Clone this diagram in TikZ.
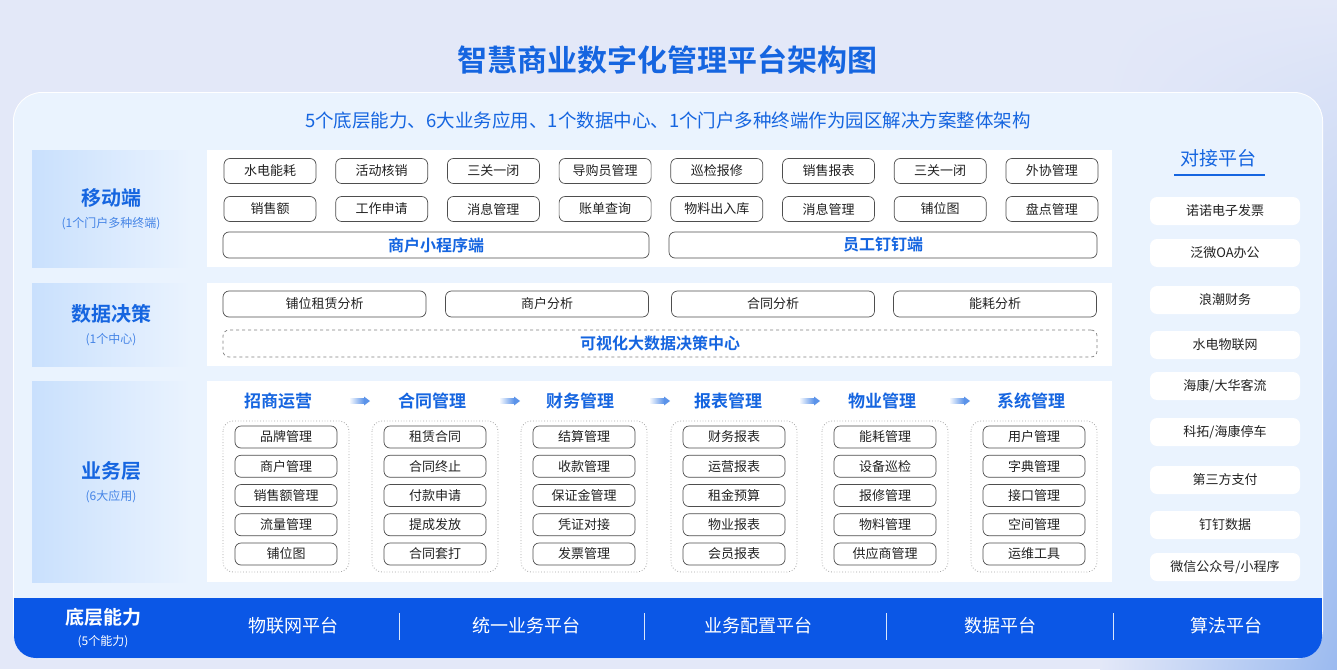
\documentclass[tikz,border=0pt]{standalone}
\usepackage{fontspec}
\setmainfont{Noto Sans CJK SC}[BoldFont={Noto Sans CJK SC Bold}]
\usetikzlibrary{shadings}
\definecolor{bg}{HTML}{E3E8F8}
\definecolor{panel}{HTML}{EAF3FE}
\definecolor{blue}{HTML}{1565E0}
\definecolor{bar}{HTML}{0B57E6}
\definecolor{lab}{HTML}{C9E0FD}
\definecolor{txt}{HTML}{222222}
\begin{document}
\begin{tikzpicture}[x=1pt,y=-1pt,
 box/.style={draw=txt!80,line width=0.7pt,rounded corners=6pt,fill=white,minimum height=25pt,inner sep=0pt,font=\fontsize{13}{13}\selectfont,text=txt},
 item/.style={box,minimum width=102pt,minimum height=22pt,rounded corners=6pt},
 grp/.style={draw=gray!70,dotted,line width=0.8pt,rounded corners=10pt},
 head/.style={font=\bfseries\fontsize{17}{17}\selectfont,text=blue},
 ext/.style={fill=white,rounded corners=7pt,minimum width=150pt,minimum height=28pt,font=\fontsize{13}{13}\selectfont,text=txt},
 lname/.style={font=\bfseries\fontsize{20}{20}\selectfont,text=blue},
 lsub/.style={font=\fontsize{12}{12}\selectfont,text=blue!80},
 bot/.style={font=\fontsize{18}{18}\selectfont,text=white},
 sep/.style={draw=white!85!bar,line width=1pt}]
\useasboundingbox (0,0) rectangle (1337,669);
\fill[bg] (0,0) rectangle (1337,669);
\shade[upper right=bg,lower right=blue!35!bg,upper left=bg,lower left=bg] (1100,0) rectangle (1337,669);
\fill[white,rounded corners=29pt] (13,92) rectangle (1323,659);
\fill[panel,rounded corners=28pt] (14,93) rectangle (1322,658);
\node[font=\bfseries\fontsize{30}{30}\selectfont,text=blue] (title) at (667,60) {智慧商业数字化管理平台架构图};
\node[font=\fontsize{18.5}{18.5}\selectfont,text=blue] (sub) at (668,120) {5个底层能力、6大业务应用、1个数据中心、1个门户多种终端作为园区解决方案整体架构};
% left labels
\foreach \a/\b/\n/\s [count=\i] in {150/267/移动端/(1个门户多种终端),283/366/数据决策/(1个中心),381/582/业务层/(6大应用)}{
 \shade[left color=lab,right color=panel] (32,\a) rectangle (190,\b);
 \node[lname] (ln\i) at (111,{(\a+\b)/2-11}) {\n};
 \node[lsub] (ls\i) at (111,{(\a+\b)/2+15}) {\s};
 \fill[white] (207,\a) rectangle (1112,\b);
}
% mobile
\foreach \t [count=\i] in {水电能耗,活动核销,三关一闭,导购员管理,巡检报修,销售报表,三关一闭,外协管理}{
 \node[box,minimum width=92pt] (m1\i) at ({270+111.7*(\i-1)},171) {\t};}
\foreach \t [count=\i] in {销售额,工作申请,消息管理,账单查询,物料出入库,消息管理,铺位图,盘点管理}{
 \node[box,minimum width=92pt] (m2\i) at ({270+111.7*(\i-1)},209) {\t};}
\node[box,minimum width=426pt,minimum height=26pt,font=\bfseries\fontsize{16}{16}\selectfont,text=blue] (ma) at (436,245) {商户小程序端};
\node[box,minimum width=428pt,minimum height=26pt,font=\bfseries\fontsize{16}{16}\selectfont,text=blue] (mb) at (883,245) {员工钉钉端};
% data
\foreach \t/\x [count=\i] in {铺位租赁分析/324.5,商户分析/547,合同分析/773,能耗分析/995}{
 \node[box,minimum width=203pt,minimum height=26pt] (d\i) at (\x,304) {\t};}
\node[box,dashed,draw=gray,minimum width=874pt,minimum height=27pt,font=\bfseries\fontsize{16}{16}\selectfont,text=blue] (dc) at (660,343.5) {可视化大数据决策中心};
% business
\foreach \h/\hx/\l [count=\i] in {招商运营/278/223,合同管理/432/372,财务管理/580/521,报表管理/728/671,物业管理/882/822,系统管理/1031/971}{
 \node[head] (h\i) at (\hx,401) {\h};
 \draw[grp] (\l,421) rectangle ++(126,151);
}
\foreach \i in {1,...,5}{
 \node[inner sep=0pt] (ar\i) at ({360+150*(\i-1)},401) {};
 \shade[left color=blue!5,right color=blue!70] ({350+150*(\i-1)},398.5) rectangle ({364+150*(\i-1)},403.5);
 \fill[blue!70] ({364+150*(\i-1)},396.5) -- ({370+150*(\i-1)},401) -- ({364+150*(\i-1)},405.5) -- cycle;
}
\def\col#1#2#3{\foreach \t [count=\j] in {#3}{\node[item] (b#1\j) at (#2,{437+29.25*(\j-1)}) {\t};}}
\col{1}{286}{品牌管理,商户管理,销售额管理,流量管理,铺位图}
\col{2}{435}{租赁合同,合同终止,付款申请,提成发放,合同套打}
\col{3}{584}{结算管理,收款管理,保证金管理,凭证对接,发票管理}
\col{4}{734}{财务报表,运营报表,租金预算,物业报表,会员报表}
\col{5}{885}{能耗管理,设备巡检,报修管理,物料管理,供应商管理}
\col{6}{1034}{用户管理,字典管理,接口管理,空间管理,运维工具}
% right
\node[font=\fontsize{19}{19}\selectfont,text=blue] (rt) at (1218,158) {对接平台};
\draw[blue,line width=2pt] (1174,175) -- (1265,175);
\foreach \y/\t [count=\i] in {211/诺诺电子发票,253/泛微OA办公,300/浪潮财务,345/水电物联网,386/{海康/大华客流},432/{科拓/海康停车},480/第三方支付,525/钉钉数据,567/{微信公众号/小程序}}{
 \node[ext] (e\i) at (1225,\y) {\t};}
% bottom
\fill[bar,rounded corners=22pt] (14,610) -- (14,658) -- (1322,658) -- (1322,610) -- cycle;
\fill[bar] (14,598) rectangle (1322,630);
\node[font=\bfseries\fontsize{19}{19}\selectfont,text=white] (bl) at (103,617) {底层能力};
\node[font=\fontsize{12}{12}\selectfont,text=white] (bs) at (103,642) {(5个能力)};
\foreach \t/\x [count=\i] in {物联网平台/293,统一业务平台/526,业务配置平台/758,数据平台/1000,算法平台/1226}{
 \node[bot] (p\i) at (\x,626) {\t};}
\foreach \x in {399,644,886,1113}{\draw[sep] (\x,613) -- (\x,640);}
\end{tikzpicture}
\end{document}
